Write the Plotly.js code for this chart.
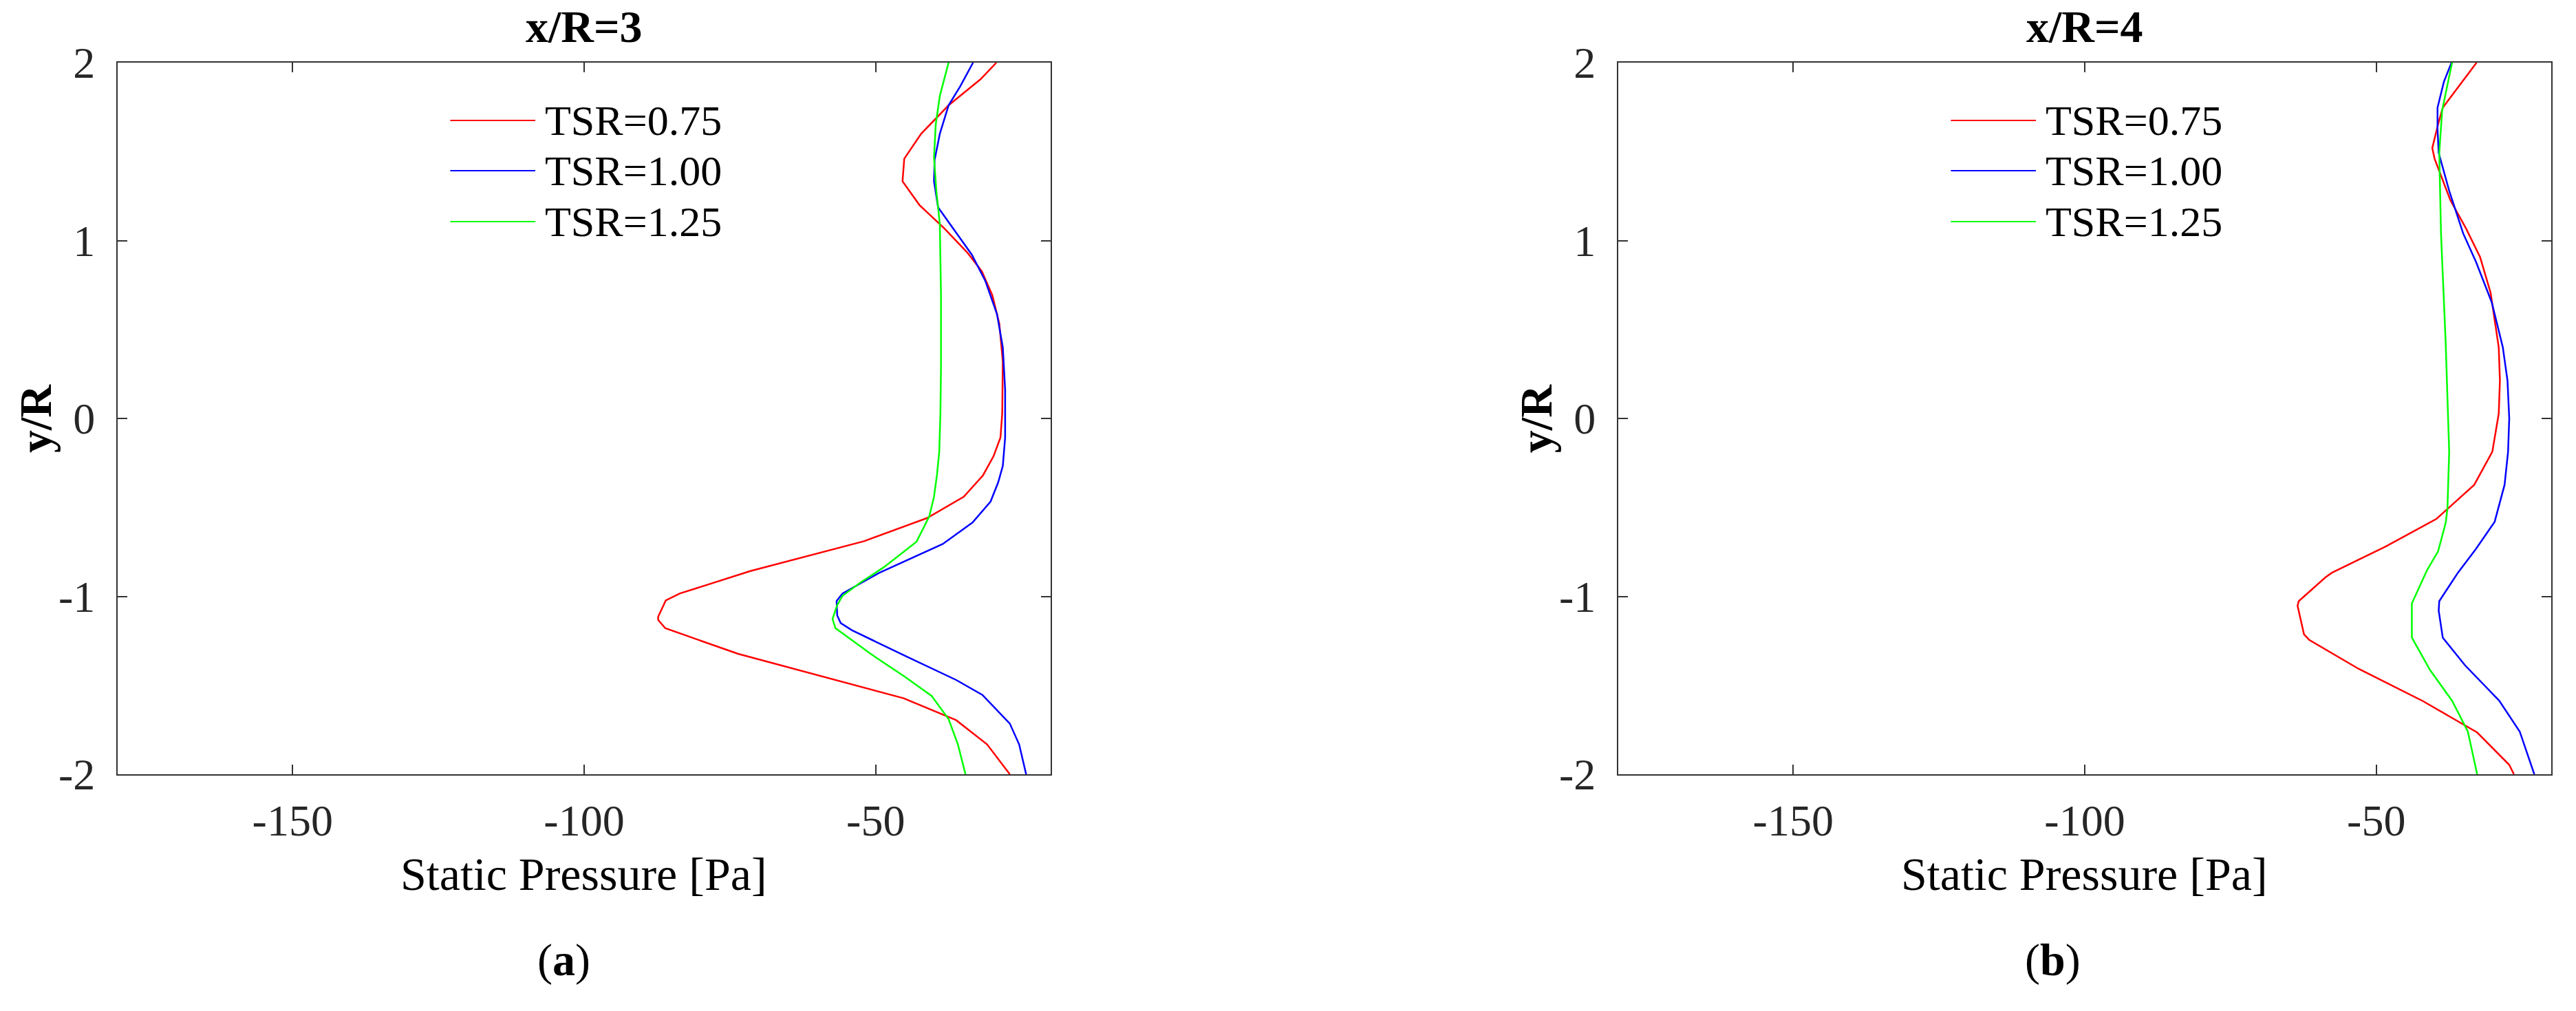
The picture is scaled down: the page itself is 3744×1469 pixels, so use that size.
<!DOCTYPE html>
<html>
<head>
<meta charset="utf-8">
<script src="https://cdn.plot.ly/plotly-3.0.1.min.js"></script>
<style>
  html, body { margin: 0; padding: 0; background: #ffffff; }
  #chart { width: 3744px; height: 1469px; }
</style>
</head>
<body>
<div id="chart"></div>
<script>
// series names and colours
const seriesNames = ['TSR=0.75', 'TSR=1.00', 'TSR=1.25'];
const seriesColors = ['#ff0000', '#0000ff', '#00ff00'];

// panel (a) x/R=3 : static pressure [Pa] vs y/R
const red3_y = [2, 1.907, 1.76, 1.6, 1.46, 1.333, 1.2, 1.067, 0.933, 0.827, 0.693, 0.533, 0.32, 0.027, -0.107, -0.213, -0.32, -0.44, -0.56, -0.69, -0.858, -0.984, -1.023, -1.114, -1.133, -1.179, -1.323, -1.489, -1.573, -1.696, -1.832, -2];
const red3_p = [-29.3, -32.0, -37.5, -42.2, -45.1, -45.4, -42.5, -38.2, -34.3, -31.8, -30.0, -28.8, -28.2, -28.3, -28.6, -29.8, -31.6, -34.9, -41.2, -52.0, -71.5, -83.6, -86.0, -87.3, -87.3, -86.1, -73.6, -54.6, -45.2, -36.2, -30.9, -27.0];

const blue3_y = [2, 1.867, 1.76, 1.6, 1.453, 1.333, 1.187, 1.067, 0.92, 0.773, 0.587, 0.4, 0.16, -0.107, -0.267, -0.36, -0.467, -0.585, -0.706, -0.868, -0.984, -1.026, -1.107, -1.15, -1.19, -1.34, -1.47, -1.554, -1.715, -1.832, -2];
const blue3_p = [-33.3, -35.5, -37.5, -39.0, -39.9, -40.0, -39.3, -36.7, -33.5, -31.2, -29.2, -28.2, -27.8, -27.8, -28.2, -29.0, -30.3, -33.4, -38.5, -49.4, -55.7, -56.7, -56.6, -56.0, -54.1, -44.6, -36.2, -31.7, -27.0, -25.4, -24.2];

const green3_y = [2, 1.813, 1.653, 1.467, 1.28, 1.093, 0.693, 0.293, 0.027, -0.187, -0.32, -0.44, -0.55, -0.693, -0.836, -0.92, -0.997, -1.049, -1.127, -1.179, -1.327, -1.45, -1.56, -1.69, -1.832, -2];
const green3_p = [-37.5, -39.0, -39.7, -40.0, -39.6, -39.0, -38.8, -38.8, -38.9, -39.1, -39.5, -40.0, -40.8, -43.0, -48.6, -52.5, -55.7, -56.6, -57.4, -56.9, -50.7, -45.1, -40.4, -37.5, -35.9, -34.6];

// panel (b) x/R=4
const red4_y = [2, 1.747, 1.653, 1.52, 1.46, 1.227, 1.067, 0.907, 0.707, 0.4, 0.213, 0.027, -0.187, -0.373, -0.565, -0.72, -0.867, -0.893, -1.027, -1.053, -1.213, -1.245, -1.408, -1.587, -1.765, -1.947, -2];
const red4_p = [-32.8, -38.6, -39.4, -40.4, -40.0, -37.3, -34.6, -32.2, -30.4, -29.0, -28.8, -29.0, -30.1, -33.2, -39.7, -48.4, -57.6, -58.7, -63.3, -63.5, -62.4, -61.5, -53.0, -42.1, -32.7, -27.2, -26.4];

const blue4_y = [2, 1.893, 1.747, 1.627, 1.493, 1.28, 1.04, 0.88, 0.653, 0.4, 0.213, 0, -0.187, -0.373, -0.581, -0.733, -0.867, -1.027, -1.08, -1.232, -1.387, -1.587, -1.76, -1.893, -2];
const blue4_p = [-37.1, -38.4, -39.5, -39.5, -39.3, -37.5, -35.1, -32.9, -30.2, -28.3, -27.5, -27.2, -27.4, -28.0, -29.7, -32.9, -36.0, -39.2, -39.3, -38.6, -34.8, -28.9, -25.4, -24.0, -22.9];

const green4_y = [2, 1.733, 1.493, 1.04, 0.427, -0.187, -0.507, -0.587, -0.747, -0.853, -1.04, -1.232, -1.413, -1.587, -1.76, -2];
const green4_p = [-37.0, -38.7, -39.2, -38.9, -38.1, -37.5, -37.8, -38.1, -39.4, -41.3, -43.9, -43.9, -40.8, -37.0, -34.3, -32.7];

// axis ticks
const xTickVals = [-150, -100, -50];
const xTickText = ['-150', '-100', '-50'];
const yTickVals = [-2, -1, 0, 1, 2];
const yTickText = ['-2', '-1', '0', '1', '2'];

const panelTitles = ['x/R=3', 'x/R=4'];
const panelLabels = ['(<b>a</b>)', '(<b>b</b>)'];

const serif = 'Liberation Serif';
const axisColor = '#333333';

function line(p, y, i, xa, ya) {
    return {
        x: p, y: y, xaxis: xa, yaxis: ya,
        mode: 'lines', name: seriesNames[i], showlegend: false,
        line: {color: seriesColors[i], width: 2.5},
    };
}

const traces = [
    line(red3_p, red3_y, 0, 'x', 'y'),
    line(blue3_p, blue3_y, 1, 'x', 'y'),
    line(green3_p, green3_y, 2, 'x', 'y'),
    line(red4_p, red4_y, 0, 'x2', 'y2'),
    line(blue4_p, blue4_y, 1, 'x2', 'y2'),
    line(green4_p, green4_y, 2, 'x2', 'y2'),
];

function xAxis(domain, anchor) {
    return {
        domain: domain, anchor: anchor, range: [-180, -20],
        tickvals: xTickVals, ticktext: xTickText,
        ticks: 'inside', ticklen: 14, tickwidth: 2, tickcolor: axisColor,
        showline: true, linecolor: axisColor, linewidth: 2, mirror: 'ticks',
        showgrid: false, zeroline: false, ticklabelstandoff: 10,
        tickfont: {family: serif, size: 64, color: '#262626'},
    };
}
function yAxis(anchor) {
    return {
        domain: [0.23417, 0.93805], anchor: anchor, range: [-2, 2],
        tickvals: yTickVals, ticktext: yTickText,
        ticks: 'inside', ticklen: 14, tickwidth: 2, tickcolor: axisColor,
        showline: true, linecolor: axisColor, linewidth: 2, mirror: 'ticks',
        showgrid: false, zeroline: false, ticklabelstandoff: 18,
        tickfont: {family: serif, size: 64, color: '#262626'},
    };
}

const annotations = [];
const shapes = [];
const panels = [
    {xa: 'x', ya: 'y', cx: 0.22676, yt: 0.01362, lab: 0.2190},
    {xa: 'x2', ya: 'y2', cx: 0.80929, yt: 0.5962, lab: 0.7970},
];
panels.forEach(function (pn, k) {
    annotations.push({
        text: '<b>' + panelTitles[k] + '</b>', xref: 'paper', yref: 'paper',
        x: pn.cx, y: 1, xanchor: 'center', yanchor: 'top', showarrow: false,
        font: {family: serif, size: 66, color: '#000000'},
    });
    annotations.push({
        text: 'Static Pressure [Pa]', xref: 'paper', yref: 'paper',
        x: pn.cx, y: 0.1355, xanchor: 'center', yanchor: 'middle', showarrow: false,
        font: {family: serif, size: 68, color: '#000000'},
    });
    annotations.push({
        text: '<b>y/R</b>', xref: 'paper', yref: 'paper', textangle: -90,
        x: pn.yt, y: 0.5861, xanchor: 'center', yanchor: 'middle', showarrow: false,
        font: {family: serif, size: 66, color: '#000000'},
    });
    annotations.push({
        text: panelLabels[k], xref: 'paper', yref: 'paper',
        x: pn.lab, y: 0.0504, xanchor: 'center', yanchor: 'middle', showarrow: false,
        font: {family: serif, size: 66, color: '#000000'},
    });
    // legend, drawn inside the axes
    const rows = [0.9188, 0.8482, 0.7766];
    seriesNames.forEach(function (nm, i) {
        shapes.push({
            type: 'line', xref: pn.xa + ' domain', yref: pn.ya + ' domain',
            x0: 0.3565, x1: 0.4476, y0: rows[i], y1: rows[i],
            line: {color: seriesColors[i], width: 2},
        });
        annotations.push({
            text: nm, xref: pn.xa + ' domain', yref: pn.ya + ' domain',
            x: 0.4565, y: rows[i], xanchor: 'left', yanchor: 'middle', showarrow: false,
            font: {family: serif, size: 62, color: '#000000'},
        });
    });
});

const layout = {
    width: 3744, height: 1469,
    margin: {l: 0, r: 0, t: 0, b: 0},
    paper_bgcolor: '#ffffff', plot_bgcolor: '#ffffff',
    showlegend: false,
    xaxis: xAxis([0.04567, 0.40785], 'y'),
    yaxis: yAxis('x'),
    xaxis2: xAxis([0.62821, 0.99038], 'y2'),
    yaxis2: yAxis('x2'),
    annotations: annotations,
    shapes: shapes,
};

Plotly.newPlot('chart', traces, layout, {displayModeBar: false, staticPlot: true});
</script>
</body>
</html>
